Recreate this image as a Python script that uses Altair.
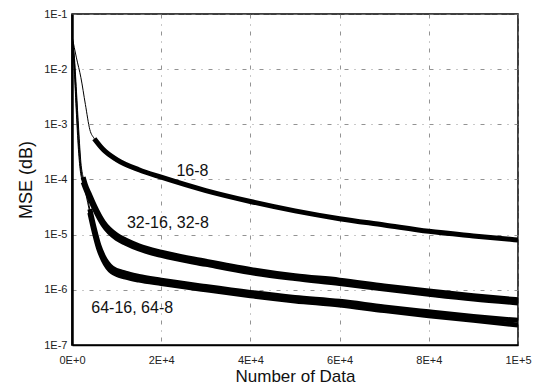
import altair as alt
import pandas as pd

# ---- data (x in number of data, y = MSE) ----
x16 = [0, 500, 1000, 2000, 3000, 4000, 5000, 7000, 10000, 15000, 20000, 30000, 40000, 50000, 60000, 70000, 80000, 90000, 100000]
y16 = [4e-2, 2.5e-2, 1.6e-2, 7e-3, 2.3e-3, 8e-4, 5.5e-4, 3.5e-4, 2.3e-4, 1.5e-4, 1.1e-4, 6.3e-5, 4e-5, 2.7e-5, 1.95e-5, 1.5e-5, 1.15e-5, 9.5e-6, 8e-6]

x32 = [0, 500, 1000, 1500, 2000, 2500, 3000, 4000, 5000, 7000, 10000, 12000, 15000, 20000, 30000, 40000, 50000, 60000, 70000, 80000, 90000, 100000]
y32_16 = [4e-2, 1.5e-2, 3e-3, 6e-4, 1.6e-4, 9e-5, 7e-5, 4.5e-5, 3e-5, 1.5e-5, 8.5e-6, 7e-6, 5.5e-6, 4.2e-6, 2.9e-6, 2.05e-6, 1.6e-6, 1.3e-6, 1.03e-6, 8.3e-7, 6.8e-7, 5.8e-7]
y32_8 = [4e-2, 1.8e-2, 4e-3, 8e-4, 2e-4, 1.1e-4, 8e-5, 5.2e-5, 3.4e-5, 1.7e-5, 9.8e-6, 8e-6, 6.3e-6, 4.8e-6, 3.3e-6, 2.35e-6, 1.8e-6, 1.5e-6, 1.18e-6, 9.5e-7, 7.8e-7, 6.6e-7]

x64 = [0, 500, 1000, 1500, 2000, 2500, 3000, 4000, 5000, 6000, 7000, 9000, 12000, 15000, 20000, 30000, 40000, 50000, 60000, 70000, 80000, 90000, 100000]
y64_16 = [4e-2, 1e-2, 1.5e-3, 3e-4, 1.2e-4, 9e-5, 6e-5, 2.5e-5, 1.1e-5, 5.5e-6, 3.5e-6, 2.1e-6, 1.7e-6, 1.5e-6, 1.3e-6, 1.0e-6, 7.8e-7, 6.3e-7, 5.3e-7, 4.2e-7, 3.4e-7, 2.8e-7, 2.3e-7]
y64_8 = [4e-2, 1.2e-2, 2e-3, 4e-4, 1.4e-4, 1e-4, 7e-5, 2.9e-5, 1.3e-5, 6.5e-6, 4.1e-6, 2.5e-6, 2e-6, 1.75e-6, 1.5e-6, 1.15e-6, 9e-7, 7.3e-7, 6.2e-7, 4.9e-7, 4e-7, 3.3e-7, 2.8e-7]

label_text = ["16-8", "32-16, 32-8", "64-16, 64-8"]
label_x = [27000, 21500, 13500]
label_y = [1.45e-4, 1.6e-5, 4.6e-7]

x_ticks = [0, 20000, 40000, 60000, 80000, 100000]
y_ticks = [1e-7, 1e-6, 1e-5, 1e-4, 1e-3, 1e-2, 1e-1]

series = [
    ("16-8", x16, y16, 5000),
    ("32-16", x32, y32_16, 2500),
    ("32-8", x32, y32_8, 2500),
    ("64-16", x64, y64_16, 4000),
    ("64-8", x64, y64_8, 4000),
]

rows, thick_rows = [], []
for name, xs, ys, start in series:
    for xv, yv in zip(xs, ys):
        rows.append({"series": name, "x": xv, "y": yv})
        if xv >= start:
            thick_rows.append({"series": name, "x": xv, "y": yv})
df = pd.DataFrame(rows)
df_thick = pd.DataFrame(thick_rows)
df_thick16 = df_thick[df_thick["series"] == "16-8"]
df_thick_low = df_thick[df_thick["series"] != "16-8"]
df_lab = pd.DataFrame({"t": label_text, "x": label_x, "y": label_y})

FONT = "Liberation Sans"
grid_dash = [4, 6, 1, 6]

x_enc = alt.X(
    "x:Q",
    scale=alt.Scale(domain=[0, 100000], nice=False, zero=False),
    axis=alt.Axis(
        values=x_ticks,
        labelExpr="datum.value == 0 ? '0E+0' : (datum.value == 100000 ? '1E+5' : (datum.value/10000) + 'E+4')",
        title="Number of Data",
        ticks=False,
        labelPadding=9,
        titlePadding=3,
        labelFontSize=11,
        titleFontSize=17,
        labelFont=FONT,
        titleFont=FONT,
        titleFontWeight="normal",
        labelColor="#222",
        titleColor="#111",
        domainColor="black",
        domainWidth=1.5,
        grid=True,
        gridColor="#777",
        gridDash=grid_dash,
        gridWidth=0.8,
        labelFlush=False,
    ),
)
y_enc = alt.Y(
    "y:Q",
    scale=alt.Scale(type="log", domain=[1e-7, 1e-1], nice=False),
    axis=alt.Axis(
        values=y_ticks,
        labelExpr="'1E-' + round(-log(datum.value)/LN10)",
        title="MSE (dB)",
        ticks=False,
        labelPadding=5,
        titlePadding=8,
        labelFontSize=11,
        titleFontSize=18,
        labelFont=FONT,
        titleFont=FONT,
        titleFontWeight="normal",
        labelColor="#222",
        titleColor="#111",
        domainColor="black",
        domainWidth=2.5,
        grid=True,
        gridColor="#777",
        gridDash=grid_dash,
        gridWidth=0.8,
    ),
)

thin = alt.Chart(df).mark_line(color="black", strokeWidth=1, clip=True, interpolate="monotone").encode(
    x=x_enc, y=y_enc, detail="series:N"
)
thick16 = alt.Chart(df_thick16).mark_line(color="black", strokeWidth=5, clip=True, interpolate="monotone").encode(
    x="x:Q", y="y:Q", detail="series:N"
)
thick_low = alt.Chart(df_thick_low).mark_line(color="black", strokeWidth=5, clip=True, interpolate="monotone").encode(
    x="x:Q", y="y:Q", detail="series:N"
)
labels = alt.Chart(df_lab).mark_text(font=FONT, fontSize=16, color="#111").encode(
    x="x:Q", y="y:Q", text="t:N"
)

chart = (
    alt.layer(thin, thick16, thick_low, labels)
    .properties(
        width=446,
        height=331,
        autosize=alt.AutoSizeParams(type="none"),
        padding={"left": 64, "top": 6, "right": 18, "bottom": 39},
        background="white",
    )
    .configure_view(stroke="black", strokeWidth=1.5)
)

chart.save("out.html", embed_options={"renderer": "svg", "actions": False})
